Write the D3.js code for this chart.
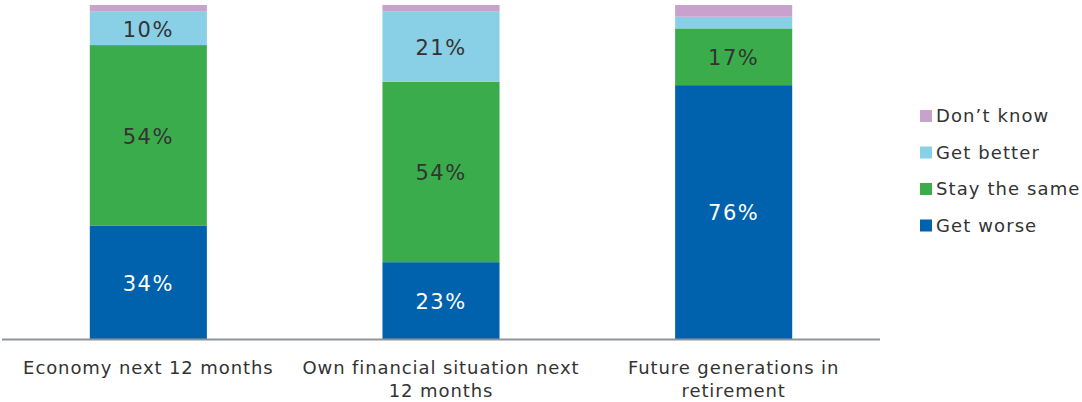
<!DOCTYPE html>
<html lang="en">
  <head>
    <meta charset="utf-8" />
    <style>
      body { margin: 0; background: #fff; }
      svg { display: block; font-family: "DejaVu Sans", Verdana, sans-serif; }
    </style>
  </head>
  <body>
    <svg id="chart" width="1082" height="402"></svg>
    <script src="https://cdnjs.cloudflare.com/ajax/libs/d3/7.8.5/d3.min.js"></script>
    <script>
      const categories = [
        ["Economy next 12 months"],
        ["Own financial situation next", "12 months"],
        ["Future generations in", "retirement"]
      ];
      const seriesNames = ["Get worse", "Stay the same", "Get better", "Don\u2019t know"];
      const getWorse = [34, 23, 76];
      const staySame = [54, 54, 17];
      const getBetter = [10, 21, 3.5];
      const dontKnow = [2, 2, 3.5];
      const showLabel = [true, true, true, false];

      const colors = ["#0061AC", "#3BAC4B", "#89CFE6", "#C9A1CD"];
      const labelColors = ["#fff", "#333", "#333", "#333"];

      const svg = d3.select("#chart");
      const x = d3.scaleBand().domain([0, 1, 2]).range([2, 880]).paddingInner(0.6).paddingOuter(0.3);
      const y = d3.scaleLinear().domain([0, 100]).range([339, 5]);

      const rows = [0, 1, 2].map(i => ({
        i,
        s0: getWorse[i], s1: staySame[i], s2: getBetter[i], s3: dontKnow[i]
      }));
      const stack = d3.stack().keys(["s0", "s1", "s2", "s3"])(rows);

      const layers = svg.append("g")
        .selectAll("g")
        .data(stack)
        .join("g")
        .attr("fill", (d, k) => colors[k]);

      layers.selectAll("rect")
        .data(d => d)
        .join("rect")
        .attr("x", d => x(d.data.i))
        .attr("width", x.bandwidth())
        .attr("y", d => y(d[1]))
        .attr("height", d => y(d[0]) - y(d[1]));

      // only label segments large enough to hold text
      layers.each(function (layer, k) {
        if (!showLabel[k]) return;
        d3.select(this).selectAll("text")
          .data(layer.filter(d => d[1] - d[0] >= 5))
          .join("text")
          .attr("x", d => x(d.data.i) + x.bandwidth() / 2)
          .attr("y", d => (y(d[0]) + y(d[1])) / 2)
          .attr("dy", "0.4em")
          .attr("text-anchor", "middle")
          .attr("font-size", 21)
          .attr("letter-spacing", 1.5)
          .attr("fill", labelColors[k])
          .text(d => Math.round(d[1] - d[0]) + "%");
      });

      // baseline
      svg.append("line")
        .attr("x1", 2).attr("x2", 880)
        .attr("y1", y(0) + 0.5).attr("y2", y(0) + 0.5)
        .attr("stroke", "#8f9499").attr("stroke-width", 2);

      // category labels
      const cat = svg.append("g")
        .selectAll("text")
        .data(categories)
        .join("text")
        .attr("x", (d, i) => x(i) + x.bandwidth() / 2)
        .attr("y", 374)
        .attr("text-anchor", "middle")
        .attr("font-size", 18)
        .attr("letter-spacing", 0.9)
        .attr("fill", "#333");
      cat.selectAll("tspan")
        .data(d => d)
        .join("tspan")
        .attr("x", function () { return this.parentNode.getAttribute("x"); })
        .attr("dy", (d, j) => j === 0 ? 0 : 23)
        .text(d => d);

      // legend
      const legendOrder = [3, 2, 1, 0];
      const legend = svg.append("g")
        .selectAll("g")
        .data(legendOrder)
        .join("g")
        .attr("transform", (k, r) => `translate(920, ${116 + r * 36.5})`);
      legend.append("rect")
        .attr("x", 0).attr("y", -6)
        .attr("width", 12).attr("height", 12)
        .attr("fill", k => colors[k]);
      legend.append("text")
        .attr("x", 16)
        .attr("dy", "0.36em")
        .attr("font-size", 18)
        .attr("letter-spacing", 1.1)
        .attr("fill", "#333")
        .text(k => seriesNames[k]);
    </script>
  </body>
</html>
